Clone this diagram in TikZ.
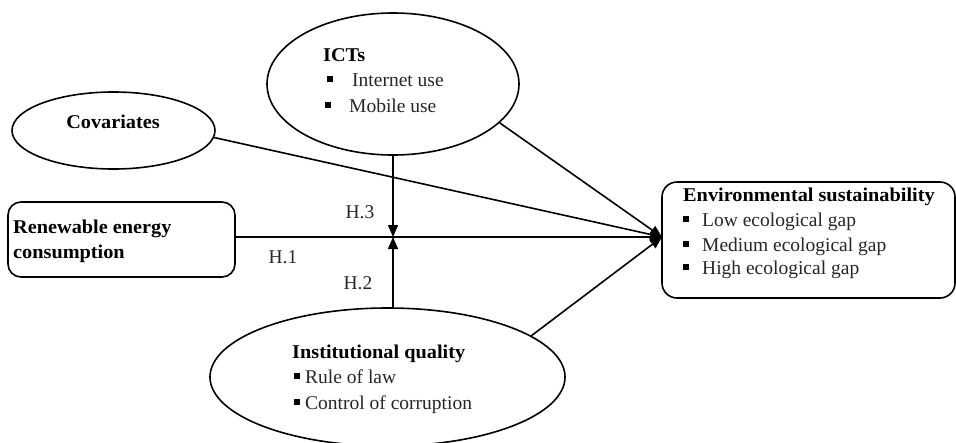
\documentclass[tikz,border=0pt]{standalone}
\usepackage{fontspec}
\setmainfont{Liberation Serif}[BoldFeatures={FakeStretch=1.04}]
\usetikzlibrary{shapes.geometric,arrows.meta}
\newcommand{\bsq}{\rule[0.18em]{6pt}{6pt}}
\tikzset{
  txt/.style={anchor=base west, inner sep=0pt, text=black!85, font=\fontsize{19.5pt}{23pt}\selectfont},
  btxt/.style={txt, text=black, font=\fontsize{19.5pt}{23pt}\selectfont\bfseries},
  ctxt/.style={anchor=base, inner sep=0pt, text=black!85, font=\fontsize{19.5pt}{23pt}\selectfont},
  oval/.style={ellipse, draw, line width=1.6pt, inner sep=0pt},
  rbox/.style={draw, line width=1.6pt, inner sep=0pt},
  arr/.style={line width=1.6pt, -{Triangle[length=12pt,width=10pt]}},
}
\begin{document}
\begin{tikzpicture}[x=1pt,y=-1pt]
\useasboundingbox (0,0) rectangle (956,442);
% shapes
\node[oval, minimum width=252pt, minimum height=142pt] (ict) at (393,84) {};
\node[oval, minimum width=203pt, minimum height=77pt] (cov) at (113.5,130.5) {};
\node[oval, minimum width=355pt, minimum height=138pt] (inst) at (387.5,377) {};
\node[rbox, rounded corners=13pt, minimum width=227pt, minimum height=75pt] (ren) at (121.5,239.5) {};
\node[rbox, rounded corners=15pt, minimum width=293pt, minimum height=116pt] (env) at (808.5,240) {};
\coordinate (j) at (393,237);
\coordinate (tgt) at (662,237);
% texts
\node[btxt] (ictT) at (323,61) {ICTs};
\node[txt, text=black] (ictA) at (327,86) {\bsq};
\node[txt] (ictAt) at (352,86) {Internet use};
\node[txt, text=black] (ictB) at (325,112) {\bsq};
\node[txt] (ictBt) at (349,112) {Mobile use};
\node[ctxt, text=black, font=\fontsize{19.5pt}{23pt}\selectfont\bfseries] (covT) at (113,128) {Covariates};
\node[btxt] (renA) at (13,233) {Renewable energy};
\node[btxt] (renB) at (13,258) {consumption};
\node[btxt] (envT) at (683,201) {Environmental sustainability};
\node[txt, text=black] (envA) at (683,226) {\bsq};
\node[txt] (envAt) at (702,226) {Low ecological gap};
\node[txt, text=black] (envB) at (683,251) {\bsq};
\node[txt] (envBt) at (702,251) {Medium ecological gap};
\node[txt, text=black] (envC) at (683,274) {\bsq};
\node[txt] (envCt) at (702,274) {High ecological gap};
\node[btxt] (instT) at (292,358) {Institutional quality};
\node[txt, text=black] (instA) at (294,383) {\bsq};
\node[txt] (instAt) at (305,383) {Rule of law};
\node[txt, text=black] (instB) at (294,409) {\bsq};
\node[txt] (instBt) at (305,409) {Control of corruption};
\node[ctxt] (h3) at (360,218) {H.3};
\node[ctxt] (h2) at (358,289) {H.2};
\node[ctxt] (h1) at (283,263) {H.1};
% connectors
\draw[arr] (cov.-4) -- (tgt);
\draw[arr] (ren.east |- j) -- (tgt);
\draw[arr] (ict.-20) -- (tgt);
\draw[arr] (inst.16) -- (tgt);
\draw[arr] (ict.south -| j) -- (j);
\draw[arr] (inst.north -| j) -- (j);
\end{tikzpicture}
\end{document}
